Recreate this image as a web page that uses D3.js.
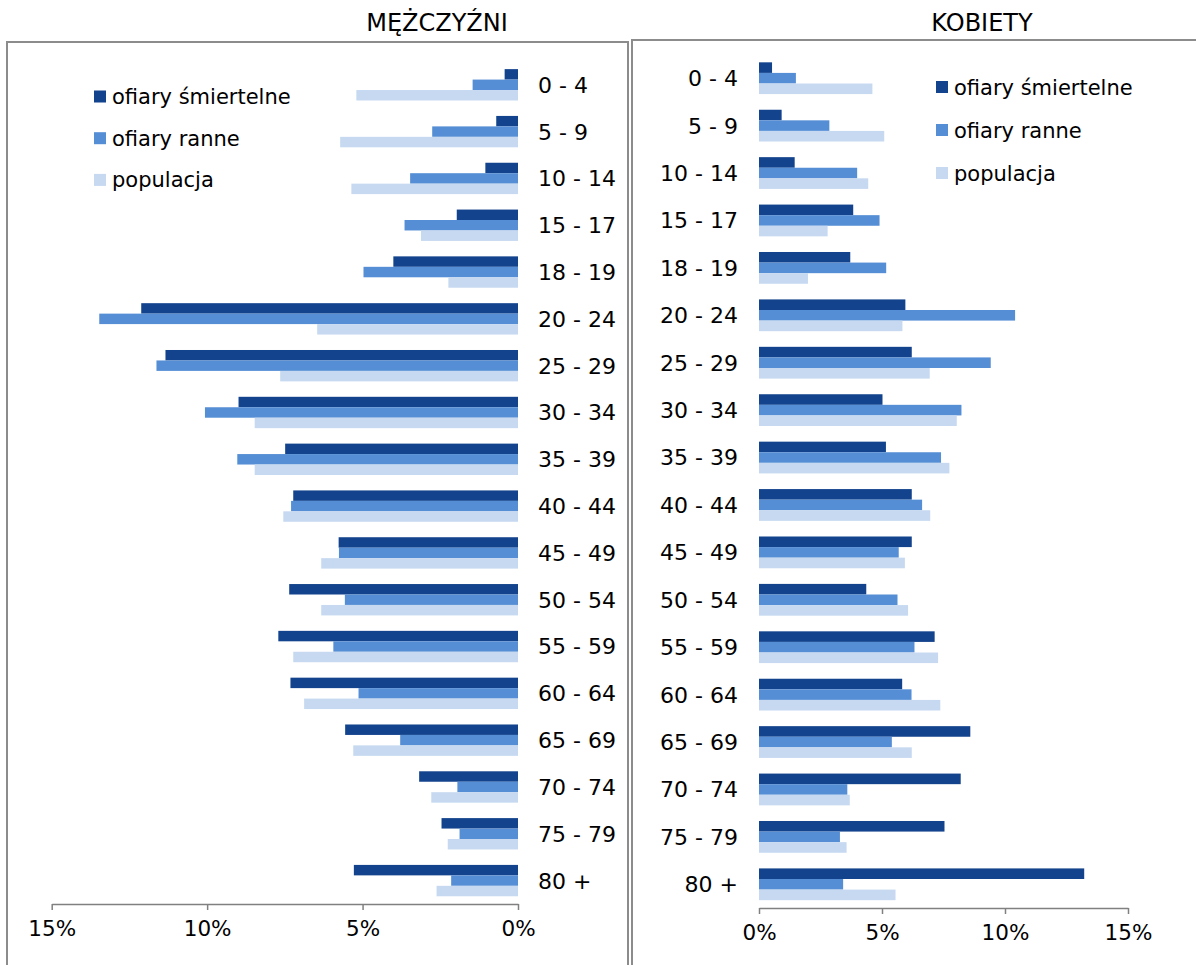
<!DOCTYPE html>
<html>
<head>
<meta charset="utf-8">
<style>
  body { margin: 0; background: #fff; }
  text { font-family: "DejaVu Sans", Verdana, sans-serif; fill: #000; }
  .axis path, .axis line { stroke: #808080; stroke-width: 1.5px; }
  .axis text { font-size: 21.5px; }
</style>
<script src="https://d3js.org/d3.v7.min.js"></script>
</head>
<body>
<script>

    // age groups
    var ages = ["0 - 4", "5 - 9", "10 - 14", "15 - 17", "18 - 19", "20 - 24", "25 - 29", "30 - 34",
                "35 - 39", "40 - 44", "45 - 49", "50 - 54", "55 - 59", "60 - 64", "65 - 69",
                "70 - 74", "75 - 79", "80 +"];

    var seriesNames = ["ofiary śmiertelne", "ofiary ranne", "populacja"];
    var colors = ["#13438c", "#558ed5", "#c6d9f1"];

    // men (%)
    var menKilled = [0.43, 0.70, 1.05, 1.97, 4.01, 12.12, 11.34, 8.99, 7.49, 7.23, 5.77, 7.36, 7.71, 7.32, 5.56, 3.18, 2.46, 5.28];
    var menInjured = [1.46, 2.76, 3.47, 3.65, 4.97, 13.47, 11.63, 10.07, 9.03, 7.30, 5.76, 5.57, 5.94, 5.13, 3.79, 1.95, 1.88, 2.15];
    var menPop = [5.20, 5.72, 5.36, 3.12, 2.24, 6.46, 7.65, 8.47, 8.47, 7.55, 6.33, 6.33, 7.23, 6.88, 5.30, 2.79, 2.26, 2.62];

    // women (%)
    var womenKilled = [0.53, 0.92, 1.45, 3.83, 3.71, 5.95, 6.21, 5.02, 5.16, 6.21, 6.21, 4.36, 7.14, 5.82, 8.59, 8.20, 7.54, 13.22];
    var womenInjured = [1.50, 2.86, 3.99, 4.90, 5.17, 10.41, 9.42, 8.23, 7.40, 6.63, 5.68, 5.63, 6.32, 6.20, 5.40, 3.59, 3.29, 3.42];
    var womenPop = [4.61, 5.09, 4.44, 2.79, 1.99, 5.83, 6.94, 8.04, 7.74, 6.96, 5.93, 6.06, 7.28, 7.37, 6.21, 3.69, 3.56, 5.55];

    var ticks = [0, 5, 10, 15];

    var width = 1196, height = 965;

    var svg = d3.select("body").append("svg")
        .attr("width", width)
        .attr("height", height);

    // panel frames
    svg.append("rect").attr("x", 7).attr("y", 42).attr("width", 621).attr("height", 960)
        .attr("fill", "none").attr("stroke", "#8c8c8c").attr("stroke-width", 2);
    svg.append("rect").attr("x", 632).attr("y", 40).attr("width", 600).attr("height", 960)
        .attr("fill", "none").attr("stroke", "#8c8c8c").attr("stroke-width", 2);

    // titles
    svg.append("text").attr("x", 437).attr("y", 31).attr("text-anchor", "middle")
        .style("font-size", "24px").text("MĘŻCZYŹNI");
    svg.append("text").attr("x", 982).attr("y", 31).attr("text-anchor", "middle")
        .style("font-size", "24px").text("KOBIETY");

    // draws one half of the pyramid
    var drawPanel = function(opts) {
        var data = ages.map(function(a, i) {
            return { age: a, vals: [opts.killed[i], opts.injured[i], opts.pop[i]] };
        });

        var x = d3.scaleLinear().domain([0, 15]).range(opts.xRange);
        var y = d3.scaleBand().domain(ages).range(opts.yRange)
            .paddingInner(0.33).paddingOuter(0.165);
        var ys = d3.scaleBand().domain([0, 1, 2]).range([0, y.bandwidth()]);

        var g = svg.append("g");

        var rows = g.selectAll("g.row").data(data).enter().append("g")
            .attr("class", "row")
            .attr("transform", function(d) { return "translate(0," + y(d.age) + ")"; });

        rows.selectAll("rect").data(function(d) { return d.vals; }).enter().append("rect")
            .attr("x", function(v) { return Math.min(x(0), x(v)); })
            .attr("y", function(v, i) { return ys(i); })
            .attr("width", function(v) { return Math.abs(x(v) - x(0)); })
            .attr("height", ys.bandwidth())
            .attr("fill", function(v, i) { return colors[i]; });

        // category labels
        rows.append("text")
            .attr("x", opts.labelX)
            .attr("y", y.bandwidth() / 2)
            .attr("dy", "0.36em")
            .attr("text-anchor", opts.labelAnchor)
            .style("font-size", "22px")
            .text(function(d) { return d.age; });

        // x axis
        var axis = d3.axisBottom(x).tickValues(ticks)
            .tickFormat(function(d) { return d + "%"; })
            .tickSizeInner(6).tickSizeOuter(0).tickPadding(11);
        var ax = g.append("g").attr("class", "axis")
            .attr("transform", "translate(0," + opts.yRange[1] + ")")
            .call(axis);
        ax.selectAll(".tick line").attr("stroke", "#404040");

        // legend
        var lg = g.selectAll("g.legend").data(seriesNames).enter().append("g")
            .attr("class", "legend")
            .attr("transform", function(d, i) {
                return "translate(" + opts.legendX + "," + (opts.legendY + i * opts.legendStep) + ")";
            });
        lg.append("rect").attr("x", 0).attr("y", -6).attr("width", 12).attr("height", 12)
            .attr("fill", function(d, i) { return colors[i]; });
        lg.append("text").attr("x", 18).attr("dy", "0.36em")
            .style("font-size", "21px")
            .text(function(d) { return d; });
    };

    drawPanel({
        killed: menKilled, injured: menInjured, pop: menPop,
        xRange: [518, 51.7], yRange: [61.4, 904],
        labelX: 538, labelAnchor: "start",
        legendX: 94, legendY: 96.5, legendStep: 41.7
    });

    drawPanel({
        killed: womenKilled, injured: womenInjured, pop: womenPop,
        xRange: [759, 1128], yRange: [54.5, 908],
        labelX: 738, labelAnchor: "end",
        legendX: 936, legendY: 87, legendStep: 43
    });

</script>
</body>
</html>
